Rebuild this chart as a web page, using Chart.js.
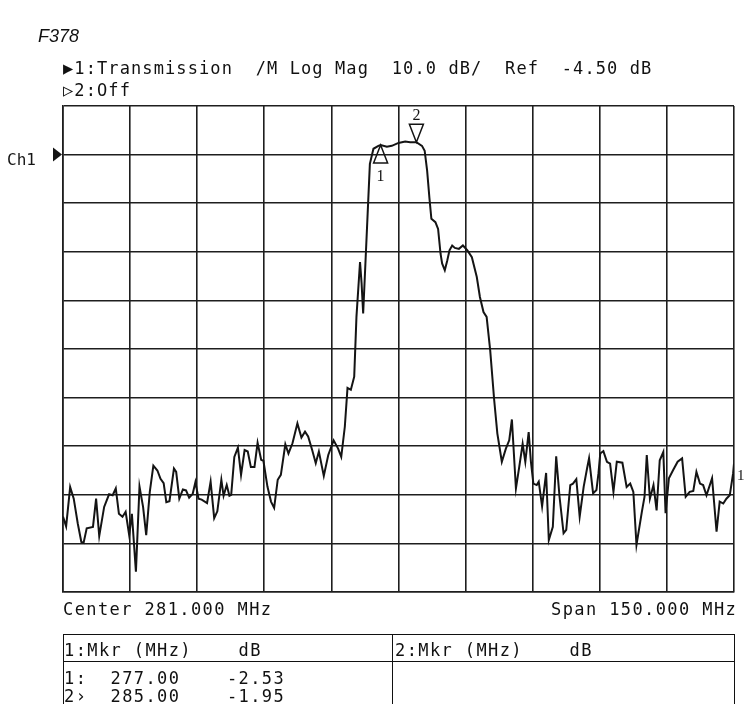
<!DOCTYPE html>
<html>
<head>
<meta charset="utf-8">
<script src="https://cdn.jsdelivr.net/npm/chart.js@4.4.0/dist/chart.umd.min.js"></script>
<style>
  html, body { margin: 0; padding: 0; background: #fff; }
  #wrap { position: relative; width: 745px; height: 704px; overflow: hidden; background: #fff; }
  #grafico { position: absolute; left: 0; top: 0; }
  .hp { position: absolute; font-family: "DejaVu Sans Mono", monospace; font-size: 17px; letter-spacing: 1.4px; color: #111; white-space: pre; line-height: 17px; }
  .hp.cab { letter-spacing: 1.1px; }
  #fig { position: absolute; left: 38px; top: 27px; font-family: "Liberation Sans", Arial, sans-serif; font-style: italic; font-size: 18px; line-height: 18px; color: #111; }
  #tabela { position: absolute; left: 63px; top: 634px; width: 672px; height: 90px; border: 1.5px solid #111; box-sizing: border-box; }
  #tabela .sep { position: absolute; left: 0; right: 0; top: 26px; border-top: 1.5px solid #111; }
  #tabela .div { position: absolute; left: 328px; top: 0; bottom: 0; border-left: 1.5px solid #111; }
</style>
</head>
<body>
<div id="wrap">
  <canvas id="grafico" width="745" height="704"></canvas>
  <div id="fig">F378</div>
  <div class="hp cab" style="left:63px; top:60px;">▶1:Transmission  /M Log Mag  10.0 dB/  Ref  -4.50 dB</div>
  <div class="hp cab" style="left:63px; top:82px;">▷2:Off</div>
  <div class="hp" style="left:63px; top:601px;">Center 281.000 MHz</div>
  <div class="hp" style="left:551px; top:601px;">Span 150.000 MHz</div>
  <div id="tabela">
    <div class="sep"></div>
    <div class="div"></div>
    <div class="hp" style="left:0px; top:7px;">1:Mkr (MHz)    dB</div>
    <div class="hp" style="left:331px; top:7px;">2:Mkr (MHz)    dB</div>
    <div class="hp" style="left:0px; top:35px;">1:  277.00    -2.53</div>
    <div class="hp" style="left:0px; top:53px;">2›  285.00    -1.95</div>
  </div>
</div>
<script>
// Eixos: centro 281 MHz, span 150 MHz; 10 dB/div, ref -4.50 dB
const freqMin = 206;
const freqMax = 356;
const freqStep = 15;
const refLevel = -4.5;
const dbMin = -94.5;
const dbMax = 5.5;
const dbStep = 10;

// Traço de transmissão
const freqMHz = [
  206.0, 206.7, 207.6, 208.4, 209.3, 210.1, 210.6, 211.3, 212.7, 213.4,
  214.1, 215.2, 216.3, 217.1, 217.8, 218.5, 219.3, 220.0, 220.8, 221.4,
  222.3, 223.1, 223.9, 224.6, 225.4, 226.2, 227.1, 227.8, 228.5, 229.1,
  229.8, 230.8, 231.3, 232.0, 232.8, 233.5, 234.2, 235.0, 235.6, 236.3,
  237.0, 238.2, 239.0, 239.8, 240.5, 241.4, 241.9, 242.6, 243.2, 243.6,
  244.3, 245.1, 245.8, 246.6, 247.3, 248.0, 248.8, 249.5, 250.3, 250.8,
  251.7, 252.5, 253.2, 254.0, 254.7, 255.7, 256.4, 257.3, 258.4, 259.3,
  260.1, 260.8, 261.7, 262.5, 263.2, 264.3, 265.3, 266.5, 267.5, 268.2,
  269.0, 269.6, 270.35, 271.1, 271.6, 272.4, 272.75, 273.1, 273.5, 274.1,
  274.6, 275.4, 276.5, 277.0, 278.4, 279.5, 281.0, 282.5, 283.6, 285.0,
  286.25, 286.85, 287.4, 287.9, 288.35, 289.25, 289.85, 290.4, 290.75, 291.35,
  291.9, 292.4, 293.0, 293.6, 294.5, 295.4, 296.4, 297.4, 298.5, 299.2,
  300.0, 300.7, 301.5, 302.4, 303.1, 304.1, 305.0, 305.75, 306.35, 307.25,
  308.0, 308.75, 309.35, 310.1, 310.6, 311.15, 311.9, 312.35, 313.1, 314.0,
  314.6, 315.5, 316.25, 317.0, 317.9, 318.5, 319.4, 320.0, 320.75, 321.5,
  322.4, 323.15, 323.6, 324.5, 325.25, 325.7, 326.1, 326.8, 327.6, 328.3,
  329.05, 329.8, 331.05, 332.0, 332.8, 333.5, 334.2, 335.4, 336.0, 336.5,
  337.2, 338.0, 338.7, 339.4, 340.2, 340.7, 341.45, 342.4, 343.4, 344.4,
  345.2, 346.1, 346.9, 347.6, 348.4, 349.1, 349.85, 351.1, 352.1, 352.8,
  353.6, 354.3, 355.05, 355.8, 356.0
];
const transmissaoDb = [
  -79.0, -81.0, -72.9, -75.3, -80.4, -84.2, -84.4, -81.4, -81.1, -75.3,
  -83.0, -77.0, -74.4, -74.6, -73.2, -78.4, -79.0, -78.0, -82.8, -78.4,
  -90.3, -72.8, -77.0, -82.8, -73.9, -68.5, -69.5, -71.2, -72.1, -76.0,
  -75.8, -69.1, -69.8, -75.3, -73.4, -73.6, -75.1, -74.3, -71.9, -75.3,
  -75.5, -76.2, -71.8, -79.3, -77.9, -71.4, -74.7, -72.5, -74.7, -74.5,
  -66.7, -64.8, -70.4, -65.3, -65.6, -68.8, -68.8, -63.8, -67.3, -67.5,
  -72.8, -75.9, -77.2, -71.4, -70.4, -64.1, -66.0, -63.9, -59.8, -62.7,
  -61.5, -62.5, -65.3, -68.0, -65.6, -70.6, -66.3, -63.3, -65.0, -66.7,
  -60.5, -52.5, -52.9, -50.2, -37.9, -26.6, -31.0, -37.2, -29.0, -16.7,
  -6.4, -3.3, -2.7, -2.53, -2.9, -2.7, -2.1, -1.83, -1.97, -1.95,
  -2.7, -3.7, -7.8, -13.3, -17.7, -18.4, -19.8, -24.9, -26.9, -28.3,
  -26.3, -24.2, -23.2, -23.7, -23.9, -23.2, -24.2, -25.6, -29.7, -33.8,
  -36.9, -37.9, -44.8, -55.1, -61.9, -67.7, -65.0, -63.3, -59.0, -73.2,
  -68.7, -64.0, -67.7, -61.6, -67.7, -72.2, -72.5, -71.8, -76.9, -70.0,
  -83.8, -81.1, -66.6, -74.9, -82.4, -81.7, -72.5, -72.2, -71.3, -79.0,
  -72.8, -69.1, -67.0, -74.2, -73.5, -70.1, -66.0, -65.5, -67.7, -68.1,
  -73.9, -67.7, -67.9, -72.9, -72.2, -73.9, -84.8, -78.0, -74.9, -66.3,
  -75.3, -72.5, -77.7, -67.4, -65.7, -78.3, -71.1, -69.4, -67.7, -67.0,
  -74.9, -73.9, -73.7, -69.8, -72.2, -72.5, -74.6, -71.1, -82.1, -75.9,
  -76.3, -75.3, -74.6, -70.1, -68.1
];

// Marcadores
const markerFreq = [277.0, 285.0];
const markerDb = [-2.53, -1.95];
const markerLabel = ["1", "2"];
const markerBelow = [true, false];

const corTraco = "#141414";

// desenha marcadores, seta do canal e rótulo da ponta direita
const anotacoes = {
  id: "anotacoes",
  afterDatasetsDraw(chart) {
    const { ctx, scales: { x, y }, chartArea } = chart;
    ctx.save();
    ctx.strokeStyle = corTraco;
    ctx.fillStyle = corTraco;
    ctx.lineWidth = 1.5;
    ctx.textAlign = "center";
    ctx.font = '16px "Liberation Serif", serif';
    markerFreq.forEach((f, i) => {
      const px = x.getPixelForValue(f);
      const py = y.getPixelForValue(markerDb[i]);
      const d = markerBelow[i] ? 1 : -1;
      ctx.beginPath();
      ctx.moveTo(px, py);
      ctx.lineTo(px - 7, py + d * 18);
      ctx.lineTo(px + 7, py + d * 18);
      ctx.closePath();
      ctx.stroke();
      ctx.fillText(markerLabel[i], px, markerBelow[i] ? py + 36 : py - 22);
    });

    // Ch1 ▶ na linha de referência
    const yRef = y.getPixelForValue(refLevel);
    ctx.font = '16px "DejaVu Sans Mono", monospace';
    ctx.textAlign = "left";
    ctx.textBaseline = "middle";
    ctx.fillText("Ch1", 7, yRef + 6);
    ctx.beginPath();
    ctx.moveTo(chartArea.left - 10, yRef - 7);
    ctx.lineTo(chartArea.left - 1, yRef);
    ctx.lineTo(chartArea.left - 10, yRef + 7);
    ctx.closePath();
    ctx.fill();

    // "1" na ponta direita do traço
    ctx.font = '15px "Liberation Serif", serif';
    ctx.fillText("1", chartArea.right + 3, y.getPixelForValue(-70.6));
    ctx.restore();
  }
};

const pontos = freqMHz.map((f, i) => ({ x: f, y: transmissaoDb[i] }));

new Chart(document.getElementById("grafico"), {
  type: "line",
  data: {
    datasets: [{
      label: "Transmission",
      data: pontos,
      borderColor: corTraco,
      borderWidth: 2,
      pointRadius: 0,
      tension: 0,
      fill: false
    }]
  },
  options: {
    responsive: false,
    animation: false,
    layout: { padding: { left: 63, top: 106, right: 11, bottom: 112 } },
    scales: {
      x: {
        type: "linear",
        min: freqMin,
        max: freqMax,
        ticks: { display: false, stepSize: freqStep },
        grid: { color: "#1e1e1e", lineWidth: 1.6, drawTicks: false },
        border: { display: true, color: "#1e1e1e", width: 1.6 }
      },
      y: {
        min: dbMin,
        max: dbMax,
        ticks: { display: false, stepSize: dbStep },
        grid: { color: "#1e1e1e", lineWidth: 1.6, drawTicks: false },
        border: { display: true, color: "#1e1e1e", width: 1.6 }
      }
    },
    plugins: {
      legend: { display: false },
      title: { display: false },
      tooltip: { enabled: false }
    }
  },
  plugins: [anotacoes]
});
</script>
</body>
</html>
